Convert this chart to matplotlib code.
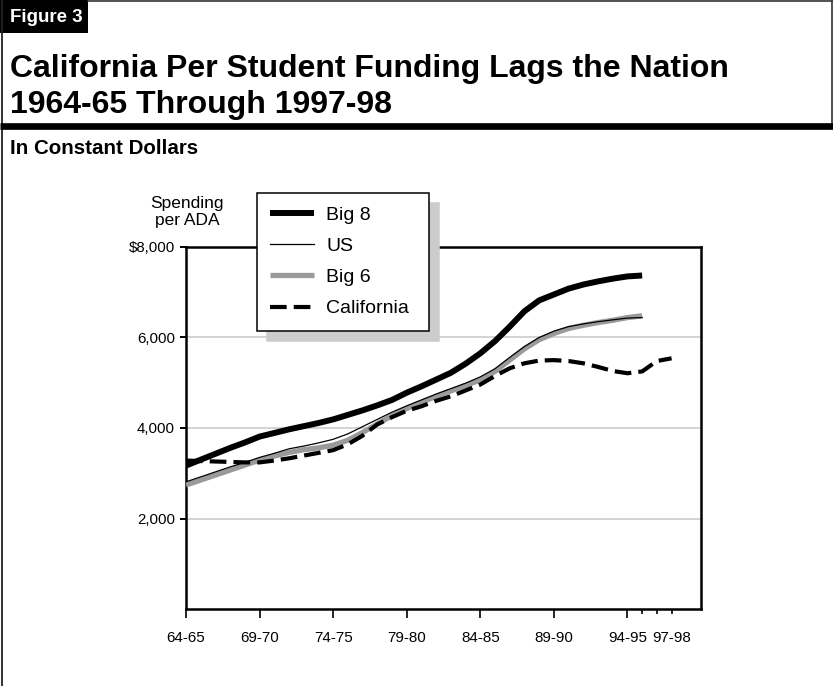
import matplotlib
matplotlib.use('Agg')
import matplotlib.pyplot as plt
from matplotlib.patches import Rectangle
from matplotlib.lines import Line2D

plt.rcParams['font.family'] = ['Liberation Sans', 'DejaVu Sans']

# ---------------- data ----------------
years = ["64-65", "65-66", "66-67", "67-68", "68-69", "69-70", "70-71", "71-72",
         "72-73", "73-74", "74-75", "75-76", "76-77", "77-78", "78-79", "79-80",
         "80-81", "81-82", "82-83", "83-84", "84-85", "85-86", "86-87", "87-88",
         "88-89", "89-90", "90-91", "91-92", "92-93", "93-94", "94-95", "95-96",
         "96-97", "97-98"]

big8 = [3170, 3300, 3430, 3560, 3680, 3810, 3890, 3970, 4040, 4110,
        4190, 4290, 4390, 4500, 4620, 4780, 4920, 5070, 5220, 5420,
        5650, 5920, 6240, 6580, 6820, 6950, 7080, 7170, 7240, 7300,
        7350, 7370]

us = [2810, 2920, 3030, 3140, 3240, 3350, 3440, 3540, 3600, 3670,
      3750, 3870, 4030, 4190, 4350, 4490, 4620, 4750, 4870, 4990,
      5130, 5310, 5560, 5800, 6000, 6140, 6240, 6300, 6350, 6390,
      6430, 6440]

big6 = [2740, 2850, 2960, 3070, 3180, 3290, 3380, 3460, 3520, 3560,
        3620, 3730, 3900, 4090, 4270, 4430, 4570, 4700, 4820, 4940,
        5060, 5250, 5500, 5750, 5950, 6090, 6200, 6270, 6330, 6380,
        6440, 6480]

california = [3280, 3270, 3260, 3250, 3240, 3240, 3280, 3330, 3390, 3450,
              3510, 3640, 3830, 4080, 4240, 4380, 4480, 4600, 4700, 4830,
              4960, 5150, 5320, 5430, 5490, 5500, 5480, 5430, 5350, 5260,
              5210, 5250, 5480, 5540]

series_names = ["Big 8", "US", "Big 6", "California"]
major_tick_labels = ["64-65", "69-70", "74-75", "79-80", "84-85", "89-90", "94-95"]
minor_tick_labels = ["", "", "97-98"]
y_ticks = [2000, 4000, 6000, 8000]
y_tick_labels = ["2,000", "4,000", "6,000", "$8,000"]

# ---------------- figure ----------------
W, H = 833, 686
fig = plt.figure(figsize=(W / 100, H / 100), dpi=100)


def fx(x):
    return x / W


def fy(y):
    return 1 - y / H


# header decorations
fig.add_artist(Rectangle((0, fy(33)), fx(88), 33 / H, transform=fig.transFigure,
                         facecolor='black', edgecolor='none'))
fig.text(fx(10), fy(17), "Figure 3", color='white', fontsize=13.5, fontweight='bold',
         ha='left', va='center')
fig.add_artist(Line2D([fx(88), 1], [fy(1), fy(1)], transform=fig.transFigure,
                      color='#333333', lw=1.2))
fig.add_artist(Line2D([fx(1.5), fx(1.5)], [0, 1], transform=fig.transFigure,
                      color='#222222', lw=1.3))
fig.add_artist(Line2D([fx(831.5), fx(831.5)], [fy(126), 1], transform=fig.transFigure,
                      color='#333333', lw=1.2))
fig.add_artist(Line2D([0, 1], [fy(126), fy(126)], transform=fig.transFigure,
                      color='black', lw=4.8, solid_capstyle='butt'))

fig.text(fx(10), fy(77), "California Per Student Funding Lags the Nation",
         fontsize=23.0, fontweight='bold', ha='left', va='baseline')
fig.text(fx(10), fy(113), "1964-65 Through 1997-98",
         fontsize=23.0, fontweight='bold', ha='left', va='baseline')
fig.text(fx(10), fy(154), "In Constant Dollars",
         fontsize=14.8, fontweight='bold', ha='left', va='baseline')

# axes
ax = fig.add_axes([fx(186), fy(609), (701 - 186) / W, (609 - 247) / H])
x_all = list(range(len(years)))

l6, = ax.plot(x_all[:len(big6)], big6, color='#9a9a9a', lw=3.8, zorder=3,
              solid_capstyle='butt')
lus, = ax.plot(x_all[:len(us)], us, color='black', lw=0.9, zorder=4)
lca, = ax.plot(x_all[:len(california)], california, color='black', lw=3.0, zorder=5,
               dashes=(4.0, 1.7), dash_capstyle='butt')
l8, = ax.plot(x_all[:len(big8)], big8, color='black', lw=4.3, zorder=6,
              solid_capstyle='butt')

ax.set_xlim(0, 35)
ax.set_ylim(0, 8000)

ax.set_xticks([0, 5, 10, 15, 20, 25, 30])
ax.set_xticklabels(major_tick_labels)
ax.set_xticks([31, 32, 33], minor=True)
ax.set_xticklabels(minor_tick_labels, minor=True)
ax.set_yticks(y_ticks)
ax.set_yticklabels(y_tick_labels)

ax.tick_params(axis='x', which='major', length=6.5, width=1.2, pad=9.0,
               labelsize=10.9, direction='out')
ax.tick_params(axis='x', which='minor', length=3.5, width=1.2, pad=12.0,
               labelsize=10.9, direction='out')
ax.tick_params(axis='y', which='major', length=4.3, width=1.4, pad=3.6,
               labelsize=10.8, direction='out')

for s in ax.spines.values():
    s.set_linewidth(1.8)
    s.set_color('black')

for v in [2000, 4000, 6000]:
    ax.axhline(v, color='#c8c8c8', lw=1.1, zorder=1)

fig.text(fx(187), fy(212), "Spending\nper ADA", fontsize=12.5, ha='center',
         va='center', linespacing=1.15)

leg = fig.legend(handles=[l8, lus, l6, lca], labels=series_names,
                 loc='upper left',
                 bbox_to_anchor=(fx(257), fy(329), 172 / W, 136 / H),
                 mode='expand', borderaxespad=0, fontsize=14,
                 handlelength=2.26, handletextpad=0.62, labelspacing=0.70,
                 borderpad=0.68, fancybox=False, framealpha=1,
                 edgecolor='black',
                 shadow={'ox': 7.2, 'oy': -7.2, 'facecolor': '#cccccc',
                         'edgecolor': '#cccccc', 'alpha': 1})
leg.get_frame().set_linewidth(1.1)

fig.savefig('out.png', dpi=100)
